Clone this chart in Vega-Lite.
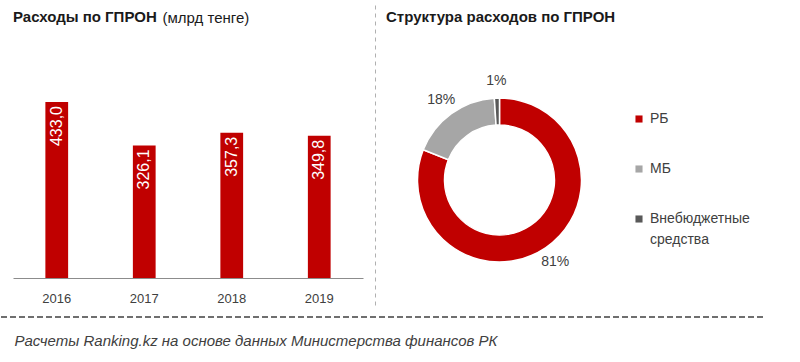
{
  "$schema": "https://vega.github.io/schema/vega-lite/v6.json",
  "padding": {"left": 0, "top": 2, "right": 0, "bottom": 0},
  "background": "white",
  "bounds": "flush",
  "spacing": 14,
  "config": {
    "font": "Liberation Sans",
    "view": {"stroke": null},
    "style": {"guide-label": {"lineHeight": 21}},
    "locale": {"number": {"decimal": ",", "thousands": " ", "grouping": [3], "currency": ["", ""]}}
  },
  "hconcat": [
    {
      "width": 350,
      "height": 303,
      "data": {"values": [
        {"year": "2016", "value": 433.0},
        {"year": "2017", "value": 326.1},
        {"year": "2018", "value": 357.3},
        {"year": "2019", "value": 349.8}
      ]},
      "title": {"text": "Расходы  по ГПРОН", "anchor": "start", "frame": "group", "fontSize": 15, "fontWeight": "bold", "color": "#1a1a1a", "offset": 0, "baseline": "alphabetic", "dx": 0, "dy": 35},
      "layer": [
        {
          "mark": {"type": "bar", "color": "#C00000"},
          "encoding": {
            "x": {"field": "year", "type": "ordinal",
              "scale": {"paddingInner": 0.74, "paddingOuter": 0.37},
              "axis": {"orient": "bottom", "offset": -27, "labelAngle": 0, "ticks": false, "domainColor": "#8c8c8c", "labelFontSize": 13, "labelColor": "#404040", "labelPadding": 14,
                "title": "Расчеты Ranking.kz на основе данных Министерства финансов РК",
                "titleX": 1, "titleY": 67, "titleAlign": "left", "titleBaseline": "alphabetic", "titleFontStyle": "italic", "titleFontWeight": "normal", "titleFontSize": 15, "titleColor": "#404040"}},
            "y": {"field": "value", "type": "quantitative",
              "scale": {"domain": [-66.4, 679], "nice": false},
              "axis": {"orient": "left", "domain": false, "ticks": false, "labels": false, "grid": false,
                "title": "(млрд тенге)", "titleAngle": 0, "titleAlign": "left", "titleBaseline": "alphabetic", "titleX": 149, "titleY": 20, "titleFontSize": 15, "titleFontWeight": "normal", "titleColor": "#1a1a1a"}},
            "y2": {"datum": 0}
          }
        },
        {
          "mark": {"type": "text", "angle": 270, "align": "right", "baseline": "middle", "dx": -4, "color": "white", "fontSize": 16},
          "encoding": {
            "x": {"field": "year", "type": "ordinal"},
            "y": {"field": "value", "type": "quantitative",
              "axis": {"orient": "right", "offset": 12, "domain": true, "domainColor": "#b0b0b0", "domainDash": [4, 4], "ticks": false, "labels": false, "grid": false, "title": null}},
            "text": {"field": "value", "type": "quantitative", "format": ".1f"}
          }
        },
        {
          "data": {"values": [{}]},
          "mark": {"type": "rule", "color": "#404040", "strokeDash": [6, 3], "strokeWidth": 1.5},
          "encoding": {"x": {"value": -12}, "x2": {"value": 751}, "y": {"value": 315}}
        }
      ],
      "resolve": {"axis": {"y": "independent"}}
    },
    {
      "width": 245,
      "height": 356,
      "data": {"values": [
        {"source": "РБ", "share": 0.81},
        {"source": "МБ", "share": 0.18},
        {"source": "Внебюджетные средства", "share": 0.01}
      ]},
      "title": {"text": "Структура  расходов  по ГПРОН", "anchor": "start", "frame": "group", "fontSize": 15, "fontWeight": "bold", "color": "#1a1a1a", "offset": 0, "baseline": "alphabetic", "dx": 9, "dy": 35},
      "encoding": {
        "theta": {"field": "share", "type": "quantitative", "stack": true},
        "order": {"field": "share", "sort": "descending"},
        "color": {"field": "source", "type": "nominal",
          "scale": {"domain": ["РБ", "МБ", "Внебюджетные средства"], "range": ["#C00000", "#A6A6A6", "#595959"]},
          "legend": {"orient": "none", "legendX": 619, "legendY": 110, "title": null, "symbolType": "square", "symbolSize": 50, "symbolStrokeWidth": 0, "labelFontSize": 14, "labelColor": "#404040", "rowPadding": 36, "labelOffset": 4, "padding": 0,
            "labelExpr": "datum.label == 'Внебюджетные средства' ? ['Внебюджетные', 'средства'] : datum.label"}}
      },
      "layer": [
        {"mark": {"type": "arc", "innerRadius": 55, "outerRadius": 82, "stroke": "white", "strokeWidth": 1.5}},
        {"mark": {"type": "text", "radius": 99, "fontSize": 14},
          "encoding": {"text": {"field": "share", "type": "quantitative", "format": ".0%"}, "color": {"value": "#404040"}}}
      ]
    }
  ]
}
